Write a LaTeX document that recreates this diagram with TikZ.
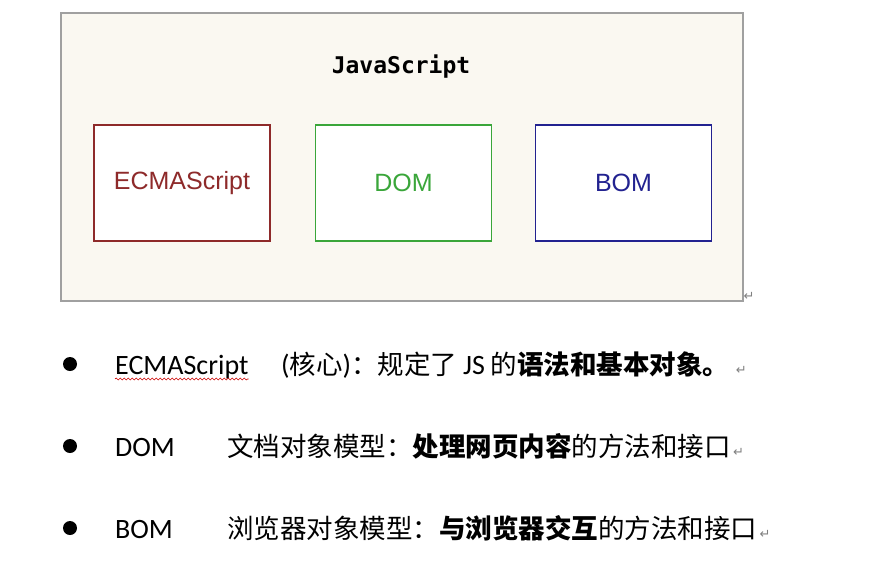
\documentclass[tikz,border=0pt]{standalone}
\usepackage{fontspec}
\setmainfont{Carlito}
\newfontfamily\cjk{Noto Sans CJK SC}
\newfontfamily\lat{Carlito}
\newfontfamily\boxfont{Liberation Sans}
\newfontfamily\titlefont{DejaVu Sans Mono}
\newfontfamily\markfont{DejaVu Sans}
\usetikzlibrary{decorations.pathmorphing}
\definecolor{ecmared}{HTML}{8E2A2A}
\definecolor{domgreen}{HTML}{3AA63A}
\definecolor{bomblue}{HTML}{222290}
\definecolor{paper}{HTML}{FAF8F1}
\definecolor{frame}{HTML}{A0A0A0}
\tikzset{
  part/.style={draw=#1, line width=1.8pt, fill=white, minimum width=176pt,
    minimum height=116pt, text=#1, inner sep=0pt,
    font=\boxfont\fontsize{25}{28}\selectfont},
  bullet/.style={circle, fill=black, inner sep=0pt, minimum size=14pt},
  term/.style={anchor=base west, inner sep=0pt, font=\lat\fontsize{28}{32}\selectfont},
  desc/.style={anchor=base west, inner sep=0pt, font=\cjk\fontsize{26.5}{30}\selectfont},
  retmark/.style={text=frame!80!black, inner sep=0pt, font=\markfont\fontsize{13}{14}\selectfont}
}

\begin{document}
\begin{tikzpicture}[x=1pt, y=-1pt]
    \useasboundingbox[fill=white] (0,0) rectangle (890,570);
    % outer frame
    \node[draw=frame, line width=1.5pt, fill=paper, inner sep=0pt,
      minimum width=682pt, minimum height=288pt] (js) at (402,157) {};
    \node[anchor=base, font=\titlefont\bfseries\fontsize{23}{26}\selectfont] (title) at (401,73) {JavaScript};
    \node[part=ecmared] (ecma) at (182,183) {ECMAScript};
    \node[part=domgreen] (dom) at (403.5,183) {DOM};
    \node[part=bomblue] (bom) at (623.5,183) {BOM};
    \node[retmark] (r0) at (749,296) {↵};

    % list below
    \node[bullet] (b1) at (70,364) {};
    \node[bullet] (b2) at (70,446) {};
    \node[bullet] (b3) at (70,528) {};

    \node[term] (t1) at (115,374) {ECMAScript};
    \node[term] (t2) at (115,456) {DOM};
    \node[term] (t3) at (115,538) {BOM};

    \node[desc] (d1) at (281,374) {{\lat\fontsize{28}{32}\selectfont (}核心{\lat\fontsize{28}{32}\selectfont )}：规定了 {\lat\fontsize{28}{32}\selectfont JS} 的\textbf{语法和基本对象。}};
    \node[desc] (d2) at (227,456) {文档对象模型：\textbf{处理网页内容}的方法和接口};
    \node[desc] (d3) at (227,538) {浏览器对象模型：\textbf{与浏览器交互}的方法和接口};

    \node[retmark, anchor=base west] (r1) at ([xshift=6pt]d1.base east) {↵};
    \node[retmark, anchor=base west] (r2) at ([xshift=2pt]d2.base east) {↵};
    \node[retmark, anchor=base west] (r3) at ([xshift=2pt]d3.base east) {↵};

    % spell-check wave
    \draw[red!80!black, line width=0.6pt, decorate,
      decoration={snake, amplitude=1pt, segment length=4pt}]
      ([yshift=-5pt]t1.base west) -- ([yshift=-5pt]t1.base east);
  \end{tikzpicture}
\end{document}
